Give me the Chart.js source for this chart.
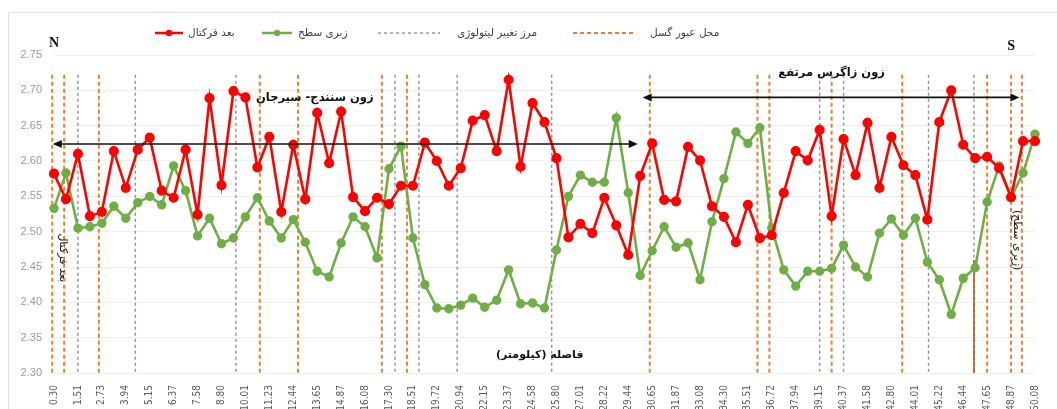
<!DOCTYPE html>
<html>
<head>
<meta charset="utf-8">
<script src="https://cdn.jsdelivr.net/npm/chart.js@4/dist/chart.umd.min.js"></script>
<style>
  html, body { margin: 0; padding: 0; background: #fff; }
  #wrap { width: 1057px; height: 409px; }
</style>
</head>
<body>
<div id="wrap"><canvas id="c" width="1057" height="409"></canvas></div>
<script>
// برچسب‌های محور افقی (کیلومتر) - هر دو نقطه یک برچسب
const tickLabels = ['0.30','1.51','2.73','3.94','5.15','6.37','7.58','8.80','10.01','11.23',
  '12.44','13.65','14.87','16.08','17.30','18.51','19.72','20.94','22.15','23.37',
  '24.58','25.80','27.01','28.22','29.44','30.65','31.87','33.08','34.30','35.51',
  '36.72','37.94','39.15','40.37','41.58','42.80','44.01','45.22','46.44','47.65',
  '48.87','50.08'];

// بعد فرکتال
const fractalDim = [2.582,2.546,2.610,2.522,2.528,2.614,2.562,2.616,2.633,2.558,
  2.548,2.616,2.524,2.689,2.566,2.699,2.690,2.591,2.634,2.528,
  2.623,2.546,2.668,2.597,2.670,2.549,2.529,2.548,2.539,2.565,
  2.565,2.626,2.600,2.565,2.590,2.657,2.665,2.614,2.715,2.592,
  2.682,2.655,2.604,2.492,2.511,2.498,2.548,2.509,2.467,2.579,
  2.625,2.545,2.543,2.620,2.601,2.536,2.521,2.485,2.538,2.491,
  2.495,2.555,2.614,2.601,2.644,2.522,2.631,2.580,2.654,2.562,
  2.634,2.594,2.580,2.517,2.655,2.700,2.623,2.604,2.606,2.590,
  2.549,2.628,2.628];

// زبری سطح (خوانده شده در مقیاس محور چپ)
const roughness = [2.533,2.583,2.505,2.507,2.512,2.536,2.519,2.541,2.550,2.538,
  2.593,2.558,2.494,2.519,2.483,2.491,2.521,2.548,2.515,2.491,
  2.517,2.485,2.444,2.436,2.484,2.521,2.507,2.463,2.589,2.621,
  2.491,2.425,2.392,2.391,2.396,2.406,2.393,2.403,2.446,2.398,
  2.399,2.392,2.474,2.550,2.580,2.570,2.570,2.661,2.555,2.438,
  2.473,2.507,2.478,2.484,2.432,2.514,2.575,2.641,2.625,2.647,
  2.505,2.446,2.423,2.444,2.444,2.448,2.481,2.450,2.436,2.498,
  2.518,2.495,2.519,2.457,2.432,2.383,2.434,2.449,2.542,2.593,
  2.548,2.583,2.638];

// محل عبور گسل و مرز تغییر لیتولوژی (بر حسب شماره نقطه)
const faultLines = [-0.15,0.85,3.75,17.2,20.4,27.4,29.5,49.8,58.8,59.8,65.0,70.9,78.0,80.0,80.9];
const lithoLines = [2.0,6.8,15.2,28.5,30.5,33.7,41.6,64.0,66.0,73.1,76.9];
const solidFault = [76.9];
const lineTop = 2.722;

const categories = fractalDim.map((_, i) => i % 2 === 0 ? tickLabels[i / 2] : '');

const RED = '#ff0000';
const GREEN = '#6fae45';
const ORANGE = '#ed7d31';
const GRAY = '#8e8e96';
const FA = '"DejaVu Sans", "Noto Sans", sans-serif';

function vline(ctx, x, yTop, yBot, color, dash, w) {
  ctx.save();
  ctx.strokeStyle = color; ctx.lineWidth = w; ctx.setLineDash(dash);
  ctx.beginPath(); ctx.moveTo(x, yTop); ctx.lineTo(x, yBot); ctx.stroke();
  ctx.restore();
}

function arrowHead(ctx, x, y, dir) {
  ctx.beginPath();
  ctx.moveTo(x, y);
  ctx.lineTo(x - dir * 9, y - 4);
  ctx.lineTo(x - dir * 9, y + 4);
  ctx.closePath();
  ctx.fill();
}

const overlays = {
  id: 'overlays',
  beforeDatasetsDraw(chart) {
    const ctx = chart.ctx, xs = chart.scales.x, ys = chart.scales.y;
    const top = ys.getPixelForValue(lineTop), bot = ys.getPixelForValue(2.30);
    lithoLines.forEach(v => vline(ctx, xs.getPixelForValue(v), top, bot, GRAY, [3, 3], 1.4));
    faultLines.forEach(v => vline(ctx, xs.getPixelForValue(v), top, bot, ORANGE, [4, 3], 2));
    solidFault.forEach(v => vline(ctx, xs.getPixelForValue(v), ys.getPixelForValue(2.46), bot, '#c0561a', [], 1.6));
  },
  afterDatasetsDraw(chart) {
    const ctx = chart.ctx, xs = chart.scales.x, ys = chart.scales.y;
    ctx.save();
    // فلش‌ها
    ctx.strokeStyle = '#111'; ctx.fillStyle = '#111'; ctx.lineWidth = 1.6;
    [[-0.1, 48.8, 2.624], [49.2, 80.7, 2.690]].forEach(([a, b, v]) => {
      const x1 = xs.getPixelForValue(a), x2 = xs.getPixelForValue(b), y = ys.getPixelForValue(v);
      ctx.beginPath(); ctx.moveTo(x1 + 4, y); ctx.lineTo(x2 - 4, y); ctx.stroke();
      arrowHead(ctx, x1, y, -1);
      arrowHead(ctx, x2, y, 1);
    });
    // متن‌ها
    ctx.textBaseline = 'middle'; ctx.textAlign = 'center';
    ctx.fillStyle = '#111';
    ctx.font = 'bold 11.5px ' + FA;
    ctx.fillText('زون سنندج- سیرجان', xs.getPixelForValue(21.8), ys.getPixelForValue(2.689));
    ctx.fillText('زون زاگرس مرتفع', xs.getPixelForValue(65.0), ys.getPixelForValue(2.724));
    ctx.font = 'bold 11px ' + FA;
    ctx.fillText('فاصله (کیلومتر)', xs.getPixelForValue(40.6), ys.getPixelForValue(2.325));
    ctx.font = 'bold 14px "Liberation Serif", "DejaVu Serif", serif';
    ctx.fillText('N', xs.getPixelForValue(0), ys.getPixelForValue(2.766));
    ctx.fillText('S', xs.getPixelForValue(80), ys.getPixelForValue(2.762));
    ctx.font = '11px ' + FA;
    [['بعد فرکتال', 0.75, 2.463], ['(زبری سطح)', 80.5, 2.488]].forEach(([t, i, v]) => {
      ctx.save();
      ctx.translate(xs.getPixelForValue(i), ys.getPixelForValue(v));
      ctx.rotate(Math.PI / 2);
      ctx.fillText(t, 0, 0);
      ctx.restore();
    });
    ctx.restore();
  },
  afterDraw(chart) {
    const ctx = chart.ctx;
    ctx.save();
    // قاب
    ctx.strokeStyle = '#e2e2e2'; ctx.lineWidth = 1;
    ctx.beginPath(); ctx.moveTo(8.5, 409); ctx.lineTo(8.5, 12.5); ctx.lineTo(1057, 12.5); ctx.stroke();
    // راهنما
    const y = 33;
    ctx.font = '10.5px ' + FA; ctx.textBaseline = 'middle'; ctx.textAlign = 'left';
    [[155, 183, 188, RED, 'بعد فرکتال'], [262, 292, 298, GREEN, 'زبری سطح']].forEach(([a, b, tx, c, t]) => {
      ctx.strokeStyle = c; ctx.fillStyle = c; ctx.lineWidth = 2.5; ctx.setLineDash([]);
      ctx.beginPath(); ctx.moveTo(a, y); ctx.lineTo(b, y); ctx.stroke();
      ctx.beginPath(); ctx.arc((a + b) / 2, y, 3.2, 0, Math.PI * 2); ctx.fill();
      ctx.fillStyle = '#404040'; ctx.fillText(t, tx, y);
    });
    [[378, 440, 457, GRAY, [3, 3], 1.4, 'مرز تغییر لیتولوژی'], [573, 635, 650, ORANGE, [4, 3], 2, 'محل عبور گسل']].forEach(([a, b, tx, c, d, w, t]) => {
      ctx.strokeStyle = c; ctx.lineWidth = w; ctx.setLineDash(d);
      ctx.beginPath(); ctx.moveTo(a, y); ctx.lineTo(b, y); ctx.stroke();
      ctx.setLineDash([]);
      ctx.fillStyle = '#404040'; ctx.fillText(t, tx, y);
    });
    ctx.restore();
  }
};

new Chart(document.getElementById('c'), {
  type: 'line',
  data: {
    labels: categories,
    datasets: [
      { label: 'بعد فرکتال', data: fractalDim, borderColor: RED, backgroundColor: RED,
        borderWidth: 2.6, pointRadius: 3.8, pointHoverRadius: 3.8, tension: 0 },
      { label: 'زبری سطح', data: roughness, borderColor: GREEN, backgroundColor: GREEN,
        borderWidth: 2.6, pointRadius: 3.4, pointHoverRadius: 3.4, tension: 0 }
    ]
  },
  options: {
    responsive: false,
    animation: false,
    events: [],
    layout: { padding: { top: 55, right: 22, left: 0, bottom: 0 } },
    plugins: { legend: { display: false }, tooltip: { enabled: false } },
    scales: {
      x: {
        offset: false,
        grid: { display: false },
        border: { display: false },
        afterFit: s => { s.height = 36; },
        ticks: {
          autoSkip: false, minRotation: 90, maxRotation: 90, padding: 4,
          color: '#5a5a5a',
          font: { family: '"Liberation Sans Narrow", "DejaVu Sans Condensed", "Liberation Sans", sans-serif', size: 10 }
        }
      },
      y: {
        min: 2.30, max: 2.75,
        grid: { color: '#efefef', drawTicks: false },
        border: { display: false },
        afterFit: s => { s.width = 54; },
        ticks: {
          stepSize: 0.05, padding: 12, color: '#9a9a9a',
          font: { family: '"Liberation Sans", sans-serif', size: 11 },
          callback: v => v.toFixed(2)
        }
      }
    }
  },
  plugins: [overlays]
});
</script>
</body>
</html>
